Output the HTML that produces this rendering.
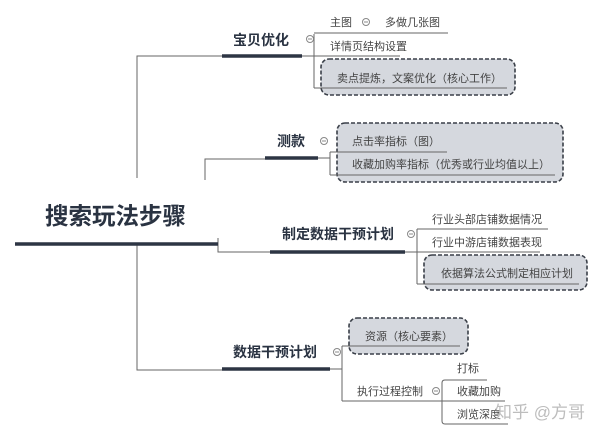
<!DOCTYPE html>
<html><head><meta charset="utf-8"><style>
html,body{margin:0;padding:0;background:#fff;width:600px;height:437px;overflow:hidden}
svg{display:block}
text{font-family:"Liberation Sans","Noto Sans CJK SC",sans-serif;fill:#333}
.b{font-weight:bold;fill:#2a3342}
.s{font-size:11px;fill:#444}
</style></head><body>
<svg width="600" height="437" viewBox="0 0 600 437">
<g fill="none" stroke="#666" stroke-width="1">
<path d="M137 178 V56 H222"/>
<path d="M137 244 V370 H222"/>
<path d="M205 180 V159 H265"/>
<path d="M218 238 V252 H270"/>
<path d="M302 56 H314"/>
<path d="M318 158 H330"/>
<path d="M405 252 H417"/>
<path d="M330 369 H342"/>
</g>
<g stroke="#2d3544" stroke-width="3.5">
<line x1="15" y1="244" x2="218" y2="244"/>
<line x1="222" y1="56" x2="302" y2="56"/>
<line x1="265" y1="158" x2="318" y2="158"/>
<line x1="270" y1="252" x2="405" y2="252"/>
<line x1="222" y1="369" x2="330" y2="369"/>
</g>
<g fill="#d5d8de" stroke="#3a3f48" stroke-width="1.6" stroke-dasharray="4,2">
<rect x="321" y="59" width="194" height="36" rx="8"/>
<rect x="337" y="123" width="226" height="59" rx="8"/>
<rect x="424" y="255" width="163" height="35" rx="8"/>
<rect x="349" y="318" width="119" height="36" rx="8"/>
</g>
<g fill="none" stroke="#666" stroke-width="1">
<path d="M314 34 V88"/><path d="M314 33 H448"/><path d="M314 56 H400"/><path d="M314 88 H507"/>
<path d="M330 152 V175"/><path d="M330 152 H447"/><path d="M330 175 H555"/>
<path d="M417 229 V284"/><path d="M417 229 H548"/><path d="M417 252 H540"/><path d="M417 284 H579"/>
<path d="M342 346 V401"/><path d="M342 346 H460"/><path d="M342 401 H442"/>
<path d="M445 380 H487 M442 383 V421 Q442 424 445 424 H508 M442 401 H505 M445 380 Q442 380 442 383"/>
</g>
<g fill="#fff" stroke="#888" stroke-width="1">
<circle cx="310" cy="39" r="3.5"/><circle cx="366" cy="22" r="3.5"/>
<circle cx="324" cy="141" r="3.5"/><circle cx="411" cy="234" r="3.5"/>
<circle cx="337" cy="352" r="3.5"/><circle cx="436" cy="391" r="3.5"/>
</g>
<g stroke="#888" stroke-width="1"><line x1="308" y1="39" x2="312" y2="39"/><line x1="364" y1="22" x2="368" y2="22"/><line x1="322" y1="141" x2="326" y2="141"/><line x1="409" y1="234" x2="413" y2="234"/><line x1="335" y1="352" x2="339" y2="352"/><line x1="434" y1="391" x2="438" y2="391"/></g>
<text class="b" x="45" y="224" font-size="23.5">搜索玩法步骤</text>
<text class="b" x="233" y="45" font-size="14">宝贝优化</text>
<text class="b" x="277" y="146" font-size="14">测款</text>
<text class="b" x="282" y="239" font-size="14">制定数据干预计划</text>
<text class="b" x="233" y="357" font-size="14">数据干预计划</text>
<text class="s" x="330" y="26">主图</text>
<text class="s" x="385" y="26">多做几张图</text>
<text class="s" x="330" y="50">详情页结构设置</text>
<text class="s" x="337" y="82">卖点提炼，文案优化（核心工作）</text>
<text class="s" x="352" y="145">点击率指标（图）</text>
<text class="s" x="352" y="168">收藏加购率指标（优秀或行业均值以上）</text>
<text class="s" x="432" y="223">行业头部店铺数据情况</text>
<text class="s" x="432" y="246">行业中游店铺数据表现</text>
<text class="s" x="441" y="277">依据算法公式制定相应计划</text>
<text class="s" x="365" y="340">资源（核心要素）</text>
<text class="s" x="357" y="395">执行过程控制</text>
<text class="s" x="457" y="372">打标</text>
<text class="s" x="457" y="395">收藏加购</text>
<text class="s" x="457" y="418">浏览深度</text>
<text x="495" y="418" font-size="17" style="fill:#bdbdbd">知乎 @方哥</text>
</svg>
</body></html>
